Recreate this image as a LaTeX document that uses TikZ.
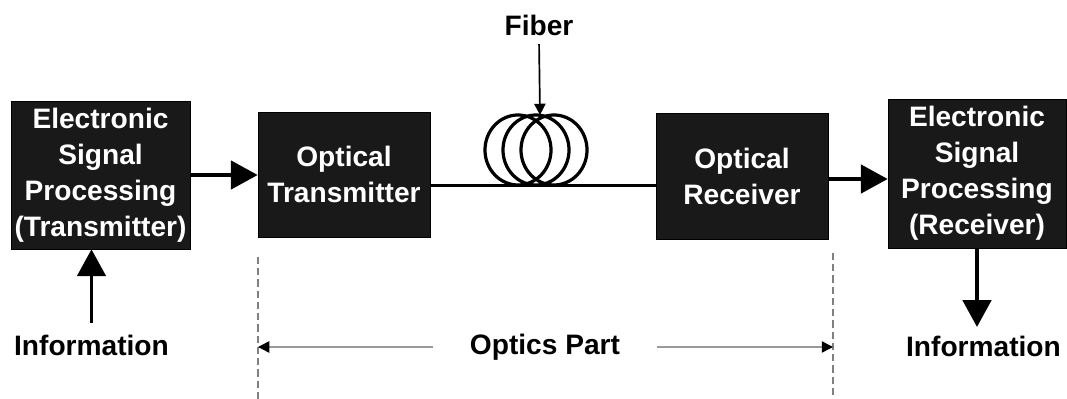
\documentclass[tikz,border=0pt]{standalone}
\usepackage{fontspec}
\setmainfont{Liberation Sans}
\usetikzlibrary{arrows.meta}

\begin{document}
\begin{tikzpicture}[
        x=0.025cm, y=-0.025cm,
        font=\fontsize{20}{25.6}\selectfont\bfseries,
        box/.style={
            draw=black,
            fill=black!90,
            text=white,
            inner sep=0pt,
            align=center
        },
        infotext/.style={inner sep=2pt},
        bigarrow/.style={line width=2.8pt, -{Triangle[length=19pt,width=20pt]}},
        thinarrow/.style={line width=1.2pt, -{Triangle[length=8pt,width=8pt]}},
        partarrow/.style={gray!80, line width=1.1pt, -{Triangle[length=8pt,width=8pt,color=black]}},
        divider/.style={gray, line width=0.8pt, dash pattern=on 5pt off 3pt}
    ]

    \useasboundingbox (0,0) rectangle (1067,399);

    \node[box, minimum width=4.475cm, minimum height=3.7cm] (esptx) at (100.5,175)
        {Electronic\\Signal\\Processing\\(Transmitter)};

    \node[box, minimum width=4.3cm, minimum height=3.125cm] (otx) at (344,174.5)
        {Optical\\Transmitter};

    \node[box, minimum width=4.3cm, minimum height=3.15cm] (orx) at (742,176)
        {Optical\\Receiver};

    \node[box, minimum width=4.45cm, minimum height=3.725cm] (esprx) at (977,173.5)
        {Electronic\\Signal\\Processing\\(Receiver)};

    \node[infotext] (fiber) at (539,25) {Fiber};
    \node[infotext] (infotx) at (91.5,345) {Information};
    \node[infotext] (inforx) at (983.5,346) {Information};
    \node[infotext] (optics) at (545,347) {Optics Part};

    \coordinate (coiltop) at (540,115);
    \coordinate (dashl) at (258,257);
    \coordinate (dashr) at (833,253);

    \foreach \cx in {518,536,554}
        \draw[line width=2.3pt] (\cx,150) ellipse [x radius=0.825cm, y radius=0.875cm];

    \draw[bigarrow] (esptx.east) -- (esptx.east -| otx.west);
    \draw[line width=2.2pt] (otx.-7.5) -- (otx.-7.5 -| orx.west);
    \draw[bigarrow] (orx.-2) -- (orx.-2 -| esprx.west);
    \draw[thinarrow, shorten <=4pt] (fiber.south) -- (coiltop);
    \draw[bigarrow, shorten <=6pt] (infotx.north) -- (infotx.north |- esptx.south);
    \draw[bigarrow, shorten >=4pt] (esprx.south) -- (esprx.south |- inforx.north);

    \draw[divider] (dashl) -- ++(0,142);
    \draw[divider] (dashr) -- ++(0,146);
    \draw[partarrow, shorten <=24pt] (optics.west) -- (optics.west -| dashl);
    \draw[partarrow, shorten <=24pt] (optics.east) -- (optics.east -| dashr);

    \end{tikzpicture}
\end{document}
